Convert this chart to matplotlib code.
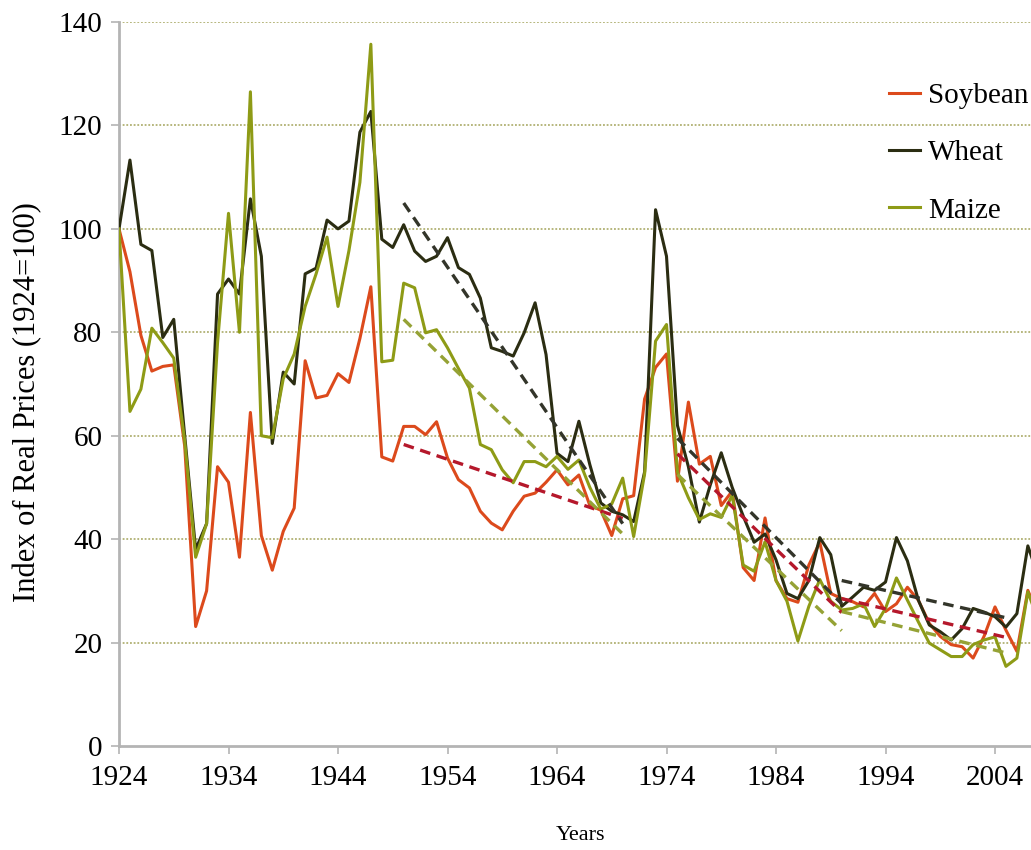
import matplotlib
matplotlib.use("Agg")
import matplotlib.pyplot as plt
import numpy as np

years = list(range(1924, 2009))

soybean = [100, 91.7, 79.4, 72.5, 73.4, 73.7, 58, 23.1, 30, 54,
           51, 36.5, 64.5, 40.7, 34, 41.5, 46, 74.5, 67.3, 67.8,
           72, 70.3, 78.8, 88.8, 55.9, 55.1, 61.8, 61.8, 60.2, 62.7,
           55.7, 51.5, 49.9, 45.4, 43.1, 41.8, 45.4, 48.3, 48.9, 51,
           53.4, 50.5, 52.4, 46.5, 45.6, 40.7, 47.8, 48.4, 67.1, 73.2,
           75.8, 51.2, 66.5, 54.5, 56, 46.5, 49.3, 34.5, 32, 44.1,
           32, 28.5, 27.8, 35, 39.4, 29.5, 28.5, 27.9, 26.9, 29.5,
           26, 27.5, 30.7, 28.2, 23.7, 21.2, 19.6, 19.2, 17, 21.2,
           26.9, 22.4, 18.3, 30.1, 25]

wheat = [100, 113.3, 97, 95.8, 79, 82.5, 60, 38, 43, 87.4,
         90.3, 87.4, 105.8, 94.7, 58.5, 72.3, 70, 91.3, 92.4, 101.7,
         100, 101.5, 118.7, 122.7, 98, 96.4, 100.8, 95.7, 93.7, 94.7,
         98.3, 92.5, 91.2, 86.6, 77, 76.3, 75.4, 79.9, 85.7, 75.7,
         56.6, 55, 62.8, 54.4, 47, 45.4, 44.7, 43.4, 53, 103.7,
         94.7, 62, 54, 43.3, 50.5, 56.7, 50, 44.5, 39.4, 41,
         36, 29.5, 28.5, 32, 40.3, 37, 27, 28.8, 30.7, 30.1,
         31.7, 40.3, 35.8, 28.2, 23.4, 22.1, 20.5, 22.7, 26.6, 25.9,
         25, 23, 25.6, 38.7, 32.5]

maize = [100, 64.7, 69, 80.8, 78, 75, 59, 36.5, 43, 78,
         103, 80, 126.5, 60, 59.6, 71, 75.8, 85, 91.3, 98.4,
         85, 95.8, 109, 135.7, 74.3, 74.6, 89.5, 88.6, 79.9, 80.5,
         77, 73, 69.2, 58.3, 57.3, 53.4, 50.9, 55, 55, 54,
         56, 53.5, 55.3, 50, 45.8, 46.8, 51.8, 40.5, 52.6, 78.3,
         81.5, 53, 48, 43.8, 44.9, 44.2, 48.5, 35, 33.8, 39.5,
         32, 28, 20.3, 27, 32.2, 28, 26.3, 26.6, 27.5, 23.1,
         26.6, 32.5, 28.2, 24, 19.9, 18.6, 17.3, 17.3, 19.6, 20.5,
         21.1, 15.4, 17, 29.8, 24]

# trend segments: (start year, end year)
trend_periods = [(1950, 1970), (1975, 1990), (1990, 2005)]
soy_trend = [(58.3, 44.0), (56.5, 25.8), (28.5, 21.0)]
wheat_trend = [(105.0, 43.0), (59.5, 27.5), (32.0, 24.8)]
maize_trend = [(82.5, 41.0), (52.5, 22.3), (26.0, 18.0)]

series_names = ["Soybean", "Wheat", "Maize"]
xtick_years = list(range(1924, 2005, 10))
ytick_vals = list(range(0, 141, 20))

c_soy = "#dc4a1c"
c_wheat = "#2b2d12"
c_maize = "#8e9b16"
c_soy_t = "#b5182b"
c_wheat_t = "#33352a"
c_maize_t = "#95a235"

plt.rcParams["font.family"] = ["Liberation Serif", "DejaVu Serif"]

fig = plt.figure(figsize=(10.31, 8.5), dpi=100)
ax = fig.add_axes([119 / 1031, 104 / 850, 88 * 10.95 / 1031, 724 / 850])

ax.set_xlim(1924, 2012)
ax.set_ylim(0, 140)

for yv in ytick_vals[1:]:
    ax.axhline(yv, color="#a3a35a", lw=1.1, ls=(0, (1.2, 1.2)), zorder=1)

lw = 2.2
l1, = ax.plot(years, soybean, color=c_soy, lw=lw, zorder=3, label=series_names[0])
l2, = ax.plot(years, wheat, color=c_wheat, lw=lw, zorder=3, label=series_names[1])
l3, = ax.plot(years, maize, color=c_maize, lw=lw, zorder=3, label=series_names[2])

dash = (0, (3.2, 2.0))
for (y0, y1), s, w, m in zip(trend_periods, soy_trend, wheat_trend, maize_trend):
    ax.plot([y0, y1], list(s), color=c_soy_t, lw=2.4, ls=dash, zorder=4)
    ax.plot([y0, y1], list(w), color=c_wheat_t, lw=2.4, ls=dash, zorder=4)
    ax.plot([y0, y1], list(m), color=c_maize_t, lw=2.4, ls=dash, zorder=4)

for sp in ["top", "right"]:
    ax.spines[sp].set_visible(False)
for sp in ["left", "bottom"]:
    ax.spines[sp].set_color("#b4b4b4")
    ax.spines[sp].set_linewidth(2)

ax.set_xticks(xtick_years)
ax.set_xticklabels([str(y) for y in xtick_years], fontsize=21)
ax.set_yticks(ytick_vals)
ax.set_yticklabels([str(v) for v in ytick_vals], fontsize=21)
ax.tick_params(axis="both", direction="out", color="#b4b4b4", width=1.2, length=6)
ax.tick_params(axis="x", pad=8)
ax.tick_params(axis="y", pad=6)

fig.text(28 / 1031, 1 - 402 / 850, "Index of Real Prices (1924=100)", fontsize=22,
         rotation=90, ha="center", va="center")
fig.text(580 / 1031, 1 - 836 / 850, "Years", fontsize=16, ha="center", va="center")

leg = fig.legend(handles=[l1, l2, l3], loc="upper left",
                 bbox_to_anchor=(889 / 1031, 1 - 83 / 850), frameon=False,
                 fontsize=21, handlelength=1.05, handletextpad=0.3,
                 labelspacing=1.05, borderaxespad=0, borderpad=0)

fig.savefig("out.png", dpi=100)
